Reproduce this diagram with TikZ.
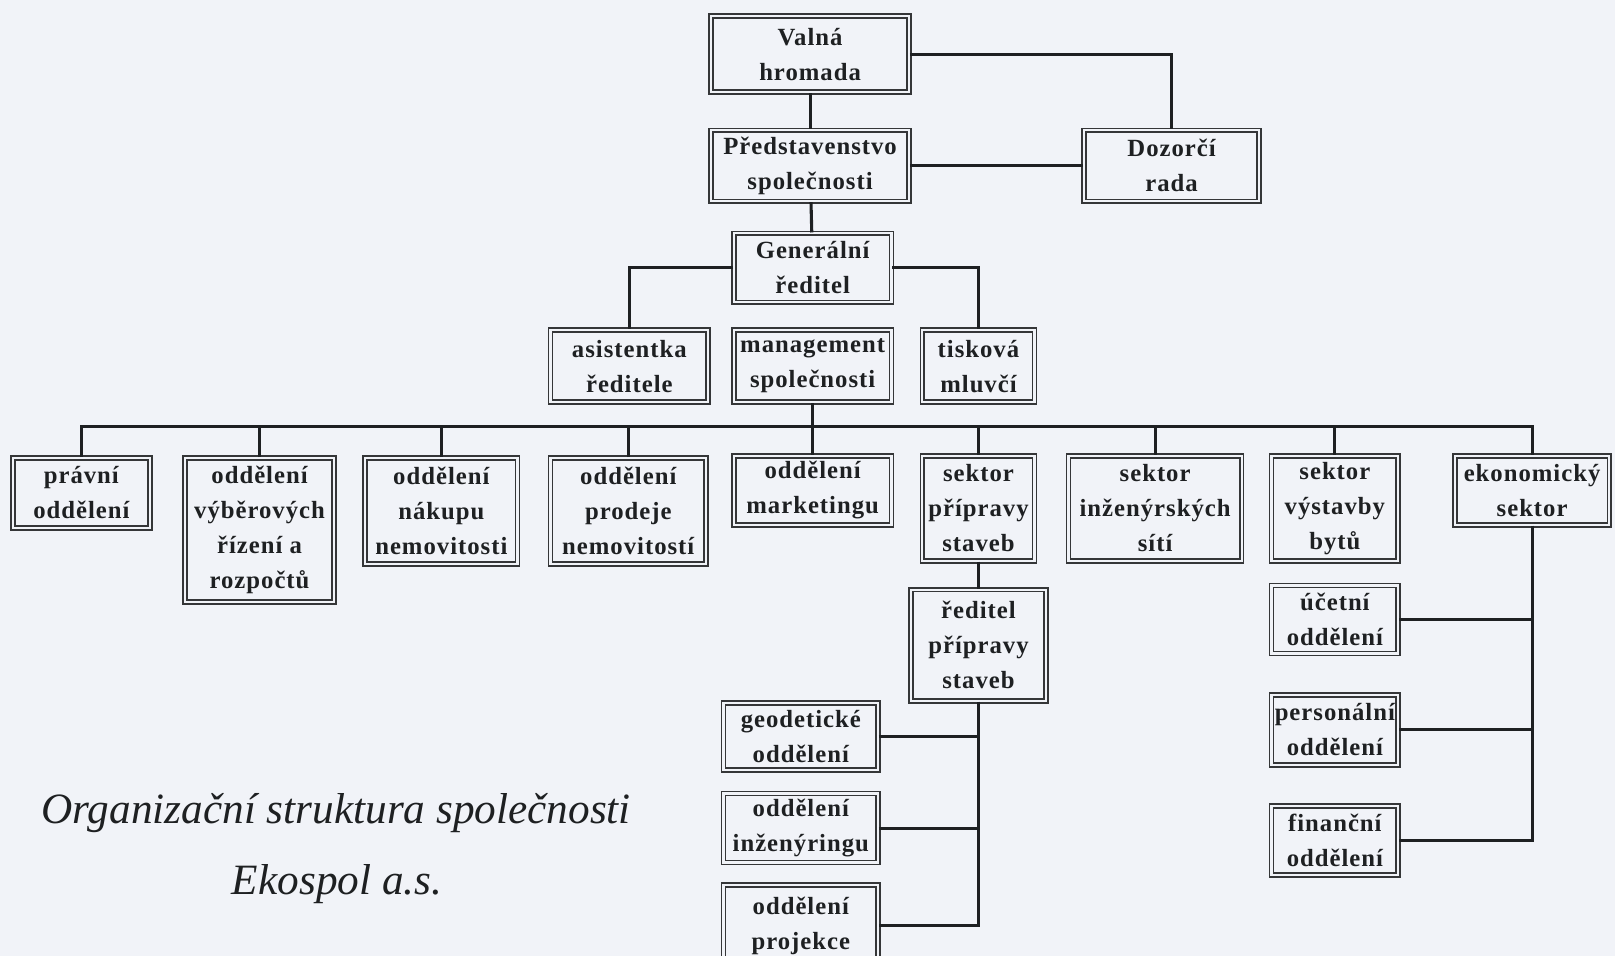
\documentclass[tikz,border=0pt]{standalone}
\usepackage{fontspec}
\setmainfont{Liberation Serif}
\newfontfamily\boxfont[LetterSpace=4]{Liberation Serif}
\definecolor{bgc}{RGB}{241,243,248}
\definecolor{ink}{RGB}{30,32,34}
\newcommand\bx[6]{\node[orgbox, minimum width={(#4-#2-5)*1pt}, minimum height={(#5-#3-5)*1pt}] (#1) at ({(#2+#4)/2},{(#3+#5)/2}) {#6};}
\begin{document}
\begin{tikzpicture}[x=1pt,y=-1pt,
  orgbox/.style={draw=ink!90, line width=1.6pt, double=bgc, double distance=2.2pt, fill=bgc,
    inner sep=0pt, align=center, text=ink,
    font=\boxfont\bfseries\fontsize{24}{34}\selectfont},
  conn/.style={draw=ink, line width=3pt},
  capt/.style={font=\itshape\fontsize{42}{50}\selectfont, text=ink, inner sep=0pt, anchor=base west}]
\fill[bgc] (0,0) rectangle (1568,928);
\clip (0,0) rectangle (1568,928);
% boxes
\bx{valna}{688}{13}{885}{92}{Valná\\hromada}
\bx{pred}{688}{124}{885}{198}{Představenstvo\\společnosti}
\bx{dozor}{1050}{124}{1225}{198}{Dozorčí\\rada}
\bx{gen}{710}{224}{868}{296}{Generální\\ředitel}
\bx{asist}{532}{318}{690}{393}{asistentka\\ředitele}
\bx{mgmt}{710}{318}{868}{393}{management\\společnosti}
\bx{tisk}{893}{318}{1007}{393}{tisková\\mluvčí}
\bx{pravni}{10}{442}{148}{515}{právní\\oddělení}
\bx{vyber}{177}{442}{327}{587}{oddělení\\výběrových\\řízení a\\rozpočtů}
\bx{nakup}{352}{442}{505}{550}{oddělení\\nákupu\\nemovitosti}
\bx{prodej}{532}{442}{688}{550}{oddělení\\prodeje\\nemovitostí}
\bx{mkt}{710}{440}{868}{512}{oddělení\\marketingu}
\bx{sekprip}{893}{440}{1007}{547}{sektor\\přípravy\\staveb}
\bx{inzsit}{1035}{440}{1208}{547}{sektor\\inženýrských\\sítí}
\bx{vystav}{1232}{440}{1360}{547}{sektor\\výstavby\\bytů}
\bx{ekon}{1410}{440}{1565}{512}{ekonomický\\sektor}
\bx{redprip}{882}{570}{1018}{683}{ředitel\\přípravy\\staveb}
\bx{geod}{700}{680}{855}{750}{geodetické\\oddělení}
\bx{inz}{700}{768}{855}{840}{oddělení\\inženýringu}
\bx{proj}{700}{857}{855}{940}{oddělení\\projekce}
\bx{ucet}{1232}{566}{1360}{637}{účetní\\oddělení}
\bx{pers}{1232}{672}{1360}{745}{personální\\oddělení}
\bx{fin}{1232}{780}{1360}{852}{finanční\\oddělení}
% connectors
\draw[conn] (valna) -- (pred);
\draw[conn] (valna.east) -| (dozor.north);
\draw[conn] (pred.east) -- (dozor.west);
\draw[conn] (pred) -- (gen);
\draw[conn] (gen.west) -| (asist.north);
\draw[conn] (gen.east) -| (tisk.north);
\coordinate (bus) at (mgmt.south |- 0,414);
\draw[conn] (mgmt.south) -- (bus);
\draw[conn] (pravni.north) |- (bus);
\draw[conn] (ekon.north) |- (bus);
\foreach \n in {vyber,nakup,prodej,mkt,sekprip,inzsit,vystav}{\draw[conn] (\n.north) -- (\n.north |- bus);}
\draw[conn] (sekprip) -- (redprip);
\draw[conn] (redprip.south) |- (proj.east);
\draw[conn] (geod.east) -- (geod.east -| redprip.south);
\draw[conn] (inz.east) -- (inz.east -| redprip.south);
\draw[conn] (ekon.south) |- (fin.east);
\draw[conn] (ucet.east) -- (ucet.east -| ekon.south);
\draw[conn] (pers.east) -- (pers.east -| ekon.south);
% caption
\node[capt] (cap1) at (40,800) {Organizační struktura společnosti};
\node[capt] (cap2) at (225,868) {Ekospol a.s.};
\end{tikzpicture}
\end{document}
